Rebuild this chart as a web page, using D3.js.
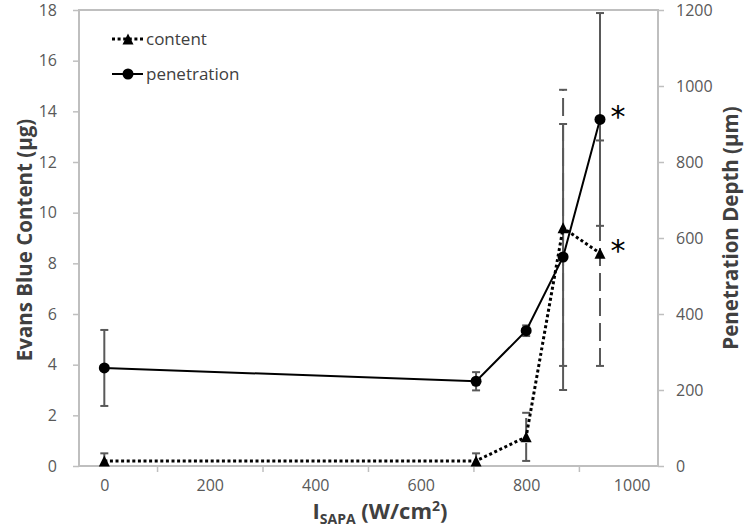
<!DOCTYPE html>
<html><head><meta charset="utf-8">
<script src="https://cdn.jsdelivr.net/npm/d3@7"></script>
<style>body{margin:0;background:#fff}</style>
</head><body>
<svg id="chart" width="750" height="532"></svg>
<script>
// ---- data ----
const intensity = [0, 705, 800, 870, 940];
const contentValues = [0.2, 0.2, 1.15, 9.4, 8.4];
const contentErrors = [0.3, 0.3, 0.95, 5.45, 4.45];
const penetrationValues = [258, 223, 356, 550, 912];
const penetrationErrors = [100, 24, 14, 350, 280];
const significant = [false, false, false, false, true];
const xTickLabels = [0, 200, 400, 600, 800, 1000];
const xMinorTicks = [100, 300, 500, 700, 900];
const leftTicks = [0, 2, 4, 6, 8, 10, 12, 14, 16, 18];
const rightTicks = [0, 200, 400, 600, 800, 1000, 1200];
const seriesNames = ["content", "penetration"];

// ---- layout ----
const L = 79, R = 658, T = 10, B = 466;
const svg = d3.select("#chart");
const x = d3.scaleLinear().domain([-48, 1050]).range([L, R]);
const yL = d3.scaleLinear().domain([0, 18]).range([B, T]);
const yR = d3.scaleLinear().domain([0, 1200]).range([B, T]);
const axisColor = "#bfbfbf", labelColor = "#595959", titleColor = "#404040";
const font = "'Open Sans', sans-serif";

svg.append("defs").append("clipPath").attr("id", "plotclip")
  .append("rect").attr("x", L).attr("y", T - 1).attr("width", R - L).attr("height", B - T + 1);

// axes
function styleAxis(g) {
  g.select(".domain").remove();
  g.selectAll(".tick line").attr("stroke", axisColor).attr("stroke-width", 1.5);
  g.selectAll("text").attr("fill", labelColor).style("font-family", font).style("font-size", "16px");
}
svg.append("g").attr("transform", `translate(${L},0)`)
  .call(d3.axisLeft(yL).tickValues(leftTicks).tickSize(6).tickPadding(16).tickFormat(d3.format("d")))
  .call(styleAxis);
svg.append("g").attr("transform", `translate(${R},0)`)
  .call(d3.axisRight(yR).tickValues(rightTicks).tickSize(6).tickPadding(12).tickFormat(d3.format("d")))
  .call(styleAxis);
svg.append("g").attr("transform", `translate(0,${B})`)
  .call(d3.axisBottom(x).tickValues(xTickLabels).tickSize(0).tickPadding(13.5).tickFormat(d3.format("d")))
  .call(styleAxis);
svg.append("g").attr("transform", `translate(0,${B})`)
  .call(d3.axisBottom(x).tickValues(xMinorTicks).tickSize(6).tickFormat(""))
  .call(styleAxis);

// plot border
svg.append("rect").attr("x", L).attr("y", T).attr("width", R - L).attr("height", B - T)
  .attr("fill", "none").attr("stroke", axisColor).attr("stroke-width", 2);

// axis titles
svg.append("text").attr("transform", `translate(32,240) rotate(-90)`)
  .attr("text-anchor", "middle").attr("fill", titleColor)
  .style("font-family", font).style("font-weight", "bold").style("font-size", "20.5px")
  .text("Evans Blue Content (μg)");
svg.append("text").attr("transform", `translate(738,228) rotate(-90)`)
  .attr("text-anchor", "middle").attr("fill", titleColor)
  .style("font-family", font).style("font-weight", "bold").style("font-size", "20.5px")
  .text("Penetration Depth (μm)");
const xt = svg.append("text").attr("x", 380).attr("y", 519).attr("text-anchor", "middle")
  .attr("fill", titleColor).style("font-family", font).style("font-weight", "bold").style("font-size", "22px");
xt.append("tspan").text("I");
xt.append("tspan").attr("dy", 5).style("font-size", "14px").text("SAPA");
xt.append("tspan").attr("dy", -5).text(" (W/cm");
xt.append("tspan").attr("dy", -8).style("font-size", "14px").text("2");
xt.append("tspan").attr("dy", 8).text(")");

const content = intensity.map((v, i) => ({x: v, y: contentValues[i], e: contentErrors[i], sig: significant[i]}));
const penetration = intensity.map((v, i) => ({x: v, y: penetrationValues[i], e: penetrationErrors[i], sig: significant[i]}));

// error bars
const errColor = "#595959";
function errorBars(data, yScale, dash) {
  const g = svg.append("g").attr("clip-path", "url(#plotclip)");
  const cap = 4;
  data.forEach(d => {
    const cx = x(d.x), y0 = yScale(d.y - d.e), y1 = yScale(d.y + d.e);
    g.append("line").attr("x1", cx).attr("x2", cx).attr("y1", y0).attr("y2", y1)
      .attr("stroke", errColor).attr("stroke-width", 2).attr("stroke-dasharray", dash);
    [y0, y1].forEach(yy => g.append("line").attr("x1", cx - cap).attr("x2", cx + cap)
      .attr("y1", yy).attr("y2", yy).attr("stroke", errColor).attr("stroke-width", 2));
  });
}
errorBars(content, yL, "18,7");
errorBars(penetration, yR, null);

// lines
svg.append("path").datum(content)
  .attr("d", d3.line().x(d => x(d.x)).y(d => yL(d.y)))
  .attr("fill", "none").attr("stroke", "#000").attr("stroke-width", 3).attr("stroke-dasharray", "3,2.6");
svg.append("path").datum(penetration)
  .attr("d", d3.line().x(d => x(d.x)).y(d => yR(d.y)))
  .attr("fill", "none").attr("stroke", "#000").attr("stroke-width", 2);

// markers
const tri = (w) => `M0,${-w/2}L${w/2},${w/2}L${-w/2},${w/2}Z`;
svg.append("g").selectAll("path").data(content).join("path")
  .attr("transform", d => `translate(${x(d.x)},${yL(d.y)})`).attr("d", tri(11)).attr("fill", "#000");
svg.append("g").selectAll("circle").data(penetration).join("circle")
  .attr("cx", d => x(d.x)).attr("cy", d => yR(d.y)).attr("r", 5.5).attr("fill", "#000");

// significance asterisks
function stars(data, yScale) {
  svg.append("g").selectAll("text").data(data.filter(d => d.sig)).join("text")
    .attr("x", d => x(d.x) + 18).attr("y", d => yScale(d.y) + 8)
    .attr("text-anchor", "middle").attr("fill", "#000")
    .style("font-family", "'DejaVu Sans', sans-serif").style("font-size", "30px").text("*");
}
stars(penetration, yR);
stars(content, yL);

// legend
const leg = svg.append("g");
const legItems = [
  {name: seriesNames[0], y: 39, dash: "3,2.6", w: 3, marker: "tri"},
  {name: seriesNames[1], y: 74, dash: null, w: 2, marker: "circle"}
];
legItems.forEach(it => {
  leg.append("line").attr("x1", 112).attr("x2", 143).attr("y1", it.y).attr("y2", it.y)
    .attr("stroke", "#000").attr("stroke-width", it.w).attr("stroke-dasharray", it.dash);
  if (it.marker === "tri") leg.append("path").attr("transform", `translate(128,${it.y})`).attr("d", tri(11)).attr("fill", "#000");
  else leg.append("circle").attr("cx", 128).attr("cy", it.y).attr("r", 5.5).attr("fill", "#000");
  leg.append("text").attr("x", 146).attr("y", it.y + 6).attr("fill", titleColor)
    .style("font-family", font).style("font-size", "17px").text(it.name);
});
</script>
</body></html>
